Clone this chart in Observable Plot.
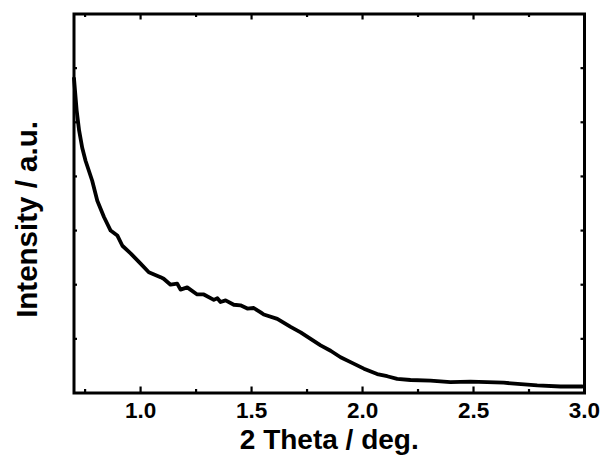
<!DOCTYPE html>
<html>
<head>
<meta charset="utf-8">
<script src="https://cdn.jsdelivr.net/npm/d3@7"></script>
<script src="https://cdn.jsdelivr.net/npm/@observablehq/plot@0.6"></script>
<style>
  html, body { margin: 0; padding: 0; background: #fff; }
  #chart svg { display: block; }
</style>
</head>
<body>
<div id="chart"></div>
<script>
// 2 Theta (deg.)
const twoTheta = [0.700, 0.712, 0.723, 0.737, 0.752, 0.782, 0.805, 0.835, 0.865, 0.895,
  0.918, 0.955, 1.000, 1.037, 1.090, 1.104, 1.135, 1.165, 1.180, 1.210,
  1.255, 1.285, 1.330, 1.346, 1.360, 1.383, 1.420, 1.450, 1.481, 1.510,
  1.541, 1.555, 1.616, 1.676, 1.721, 1.766, 1.811, 1.856, 1.901, 1.946,
  2.006, 2.066, 2.111, 2.156, 2.216, 2.306, 2.396, 2.486, 2.636, 2.787,
  2.892, 2.990];
// Intensity (a.u.)
const intensity = [5.81, 5.22, 4.85, 4.53, 4.29, 3.92, 3.55, 3.25, 3.00, 2.91,
  2.72, 2.58, 2.39, 2.23, 2.14, 2.11, 2.00, 2.02, 1.91, 1.95,
  1.82, 1.82, 1.72, 1.75, 1.68, 1.71, 1.63, 1.62, 1.56, 1.57,
  1.49, 1.45, 1.37, 1.22, 1.12, 1.00, 0.88, 0.78, 0.66, 0.57,
  0.45, 0.35, 0.31, 0.26, 0.24, 0.23, 0.20, 0.21, 0.19, 0.14,
  0.12, 0.12];

const xMajor = [1.0, 1.5, 2.0, 2.5, 3.0];
const xTickLabels = ["1.0", "1.5", "2.0", "2.5", "3.0"];
const xMinor = [0.75, 1.25, 1.75, 2.25, 2.75];
const yTicks = [1, 2, 3, 4, 5, 6];
const xLabel = "2 Theta / deg.";
const yLabel = "Intensity / a.u.";

const xDomain = [0.7, 3.0];
const yDomain = [0, 7];

const data = twoTheta.map((x, i) => ({x, y: intensity[i]}));
const tickData = xMajor.map((x, i) => ({x, label: xTickLabels[i]}));

const W = 605, H = 461;
const mL = 73.5, mR = 21, mT = 13.5, mB = 68.5;
const pxPerY = (H - mT - mB) / (yDomain[1] - yDomain[0]);
const pxPerX = (W - mL - mR) / (xDomain[1] - xDomain[0]);
const yLen = px => px / pxPerY;
const xLen = px => px / pxPerX;

const font = "'Liberation Sans', Arial, sans-serif";

const plot = Plot.plot({
  width: W,
  height: H,
  marginLeft: mL,
  marginRight: mR,
  marginTop: mT,
  marginBottom: mB,
  style: {fontFamily: font, fontWeight: "bold", color: "#000", background: "#fff"},
  x: {domain: xDomain, axis: null},
  y: {domain: yDomain, axis: null},
  marks: [
    // tick labels
    Plot.text(tickData, {x: "x", text: "label", frameAnchor: "bottom", lineAnchor: "top", dy: 9, fontSize: 22.5, fontWeight: "bold", fill: "#000"}),
    // bottom & top major ticks (inward)
    Plot.ruleX(xMajor, {x: d => d, y1: yDomain[0], y2: yDomain[0] + yLen(6), strokeWidth: 2.2, stroke: "#000"}),
    Plot.ruleX(xMajor, {x: d => d, y1: yDomain[1], y2: yDomain[1] - yLen(6), strokeWidth: 2.2, stroke: "#000"}),
    Plot.ruleX(xMinor, {x: d => d, y1: yDomain[0], y2: yDomain[0] + yLen(3.5), strokeWidth: 2.2, stroke: "#000"}),
    Plot.ruleX(xMinor, {x: d => d, y1: yDomain[1], y2: yDomain[1] - yLen(3.5), strokeWidth: 2.2, stroke: "#000"}),
    // left & right y ticks (inward)
    Plot.ruleY(yTicks, {y: d => d, x1: xDomain[0], x2: xDomain[0] + xLen(3.5), strokeWidth: 2.2, stroke: "#000"}),
    Plot.ruleY(yTicks, {y: d => d, x1: xDomain[1], x2: xDomain[1] - xLen(3.5), strokeWidth: 2.2, stroke: "#000"}),
    Plot.line(data, {x: "x", y: "y", stroke: "#000", strokeWidth: 3.8, curve: "linear", strokeLinejoin: "round"}),
    Plot.frame({stroke: "#000", strokeWidth: 3}),
    Plot.text([xLabel], {text: d => d, frameAnchor: "bottom", dy: 56, fontSize: 28, fontWeight: "bold", fill: "#000"}),
    Plot.text([yLabel], {text: d => d, frameAnchor: "left", textAnchor: "middle", dx: -46.5, dy: 16, rotate: -90, fontSize: 29.5, fontWeight: "bold", fill: "#000"})
  ]
});
document.getElementById("chart").appendChild(plot);
</script>
</body>
</html>
